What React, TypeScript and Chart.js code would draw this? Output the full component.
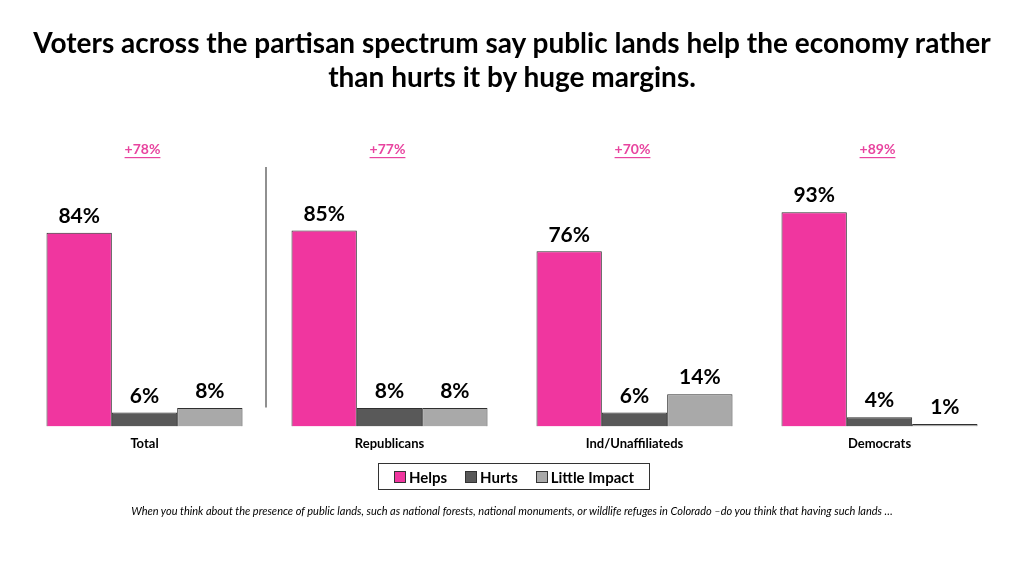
import React, { useEffect, useRef } from "react";
import { Chart, registerables } from "chart.js";

Chart.register(...registerables);

const categories = ["Total", "Republicans", "Ind/Unaffiliateds", "Democrats"];
const helps = [84, 85, 76, 93];
const hurts = [6, 8, 6, 4];
const littleImpact = [8, 8, 14, 1];
const margins = ["+78%", "+77%", "+70%", "+89%"];
const seriesNames = ["Helps", "Hurts", "Little Impact"];
const seriesColors = ["#f0369f", "#595959", "#a9a9a9"];

const FONT = "Lato, 'Open Sans', sans-serif";

const overlayPlugin = {
  id: "overlay",
  afterDatasetsDraw(chart: any) {
    const ctx = chart.ctx;
    const x = chart.scales.x;
    const area = chart.chartArea;
    ctx.save();
    // data labels
    ctx.font = `bold 21px ${FONT}`;
    ctx.fillStyle = "#000";
    ctx.textAlign = "center";
    ctx.textBaseline = "bottom";
    chart.data.datasets.forEach((ds: any, di: number) => {
      const meta = chart.getDatasetMeta(di);
      meta.data.forEach((el: any, i: number) => {
        ctx.fillText(ds.data[i] + "%", el.x, el.y - 6);
      });
    });
    // margin labels
    ctx.font = `bold 14px ${FONT}`;
    ctx.fillStyle = "#e8449f";
    ctx.textBaseline = "middle";
    margins.forEach((m, i) => {
      const cx = x.getPixelForValue(i) - 2;
      const y = 149;
      ctx.fillText(m, cx, y);
      const w = ctx.measureText(m).width;
      ctx.fillRect(cx - w / 2, y + 8, w, 1.2);
    });
    // separator
    const sx = (x.getPixelForValue(0) + x.getPixelForValue(1)) / 2 - 1;
    ctx.strokeStyle = "#6b6b6b";
    ctx.lineWidth = 1.5;
    ctx.beginPath();
    ctx.moveTo(sx, 167);
    ctx.lineTo(sx, area.bottom - 19);
    ctx.stroke();
    ctx.restore();
  },
};

export default function App() {
  const ref = useRef<HTMLCanvasElement>(null);
  useEffect(() => {
    const chart = new Chart(ref.current!, {
      type: "bar",
      data: {
        labels: categories,
        datasets: [helps, hurts, littleImpact].map((d, i) => ({
          label: seriesNames[i],
          data: d,
          backgroundColor: seriesColors[i],
          borderColor: "#2f2f2f",
          borderWidth: 1,
          categoryPercentage: 0.8,
          barPercentage: 1,
        })),
      },
      options: {
        animation: false,
        responsive: false,
        maintainAspectRatio: false,
        layout: { padding: { left: 22, right: 22, top: 196, bottom: 114 } },
        plugins: { legend: { display: false }, tooltip: { enabled: false } },
        scales: {
          x: {
            grid: { display: false, drawTicks: false },
            border: { display: false },
            ticks: {
              padding: 10,
              color: "#000",
              font: { family: FONT, size: 13, weight: "bold" },
            },
          },
          y: { display: false, min: 0, max: 100 },
        },
      },
      plugins: [overlayPlugin],
    });
    return () => chart.destroy();
  }, []);

  const sq = (c: string) => (
    <span
      style={{
        display: "inline-block",
        width: 10,
        height: 10,
        background: c,
        border: "1px solid #333",
        marginRight: 3,
      }}
    />
  );

  return (
    <div style={{ position: "absolute", left: 0, top: 0, width: 1024, height: 576, background: "#fff", fontFamily: FONT }}>
      <canvas ref={ref} width={1024} height={576} style={{ position: "absolute", left: 0, top: 0 }} />
      <div
        style={{
          position: "absolute",
          left: 0,
          top: 25,
          width: 1024,
          textAlign: "center",
          fontWeight: 700,
          fontSize: 28,
          lineHeight: "34px",
          color: "#000",
        }}
      >
        Voters across the partisan spectrum say public lands help the economy rather
        <br />
        than hurts it by huge margins.
      </div>
      <div
        style={{
          position: "absolute",
          left: 378,
          top: 463,
          width: 270,
          height: 25,
          border: "1px solid #333",
          display: "flex",
          alignItems: "center",
          justifyContent: "center",
          gap: 18,
          fontWeight: 700,
          fontSize: 15,
          color: "#000",
        }}
      >
        {seriesNames.map((n, i) => (
          <span key={n} style={{ display: "flex", alignItems: "center" }}>
            {sq(seriesColors[i])}
            {n}
          </span>
        ))}
      </div>
      <div
        style={{
          position: "absolute",
          left: 0,
          top: 504,
          width: 1024,
          textAlign: "center",
          fontStyle: "italic",
          fontSize: 11,
          color: "#000",
        }}
      >
        When you think about the presence of public lands, such as national forests, national monuments, or wildlife refuges in Colorado –do you think that having such lands …
      </div>
    </div>
  );
}
